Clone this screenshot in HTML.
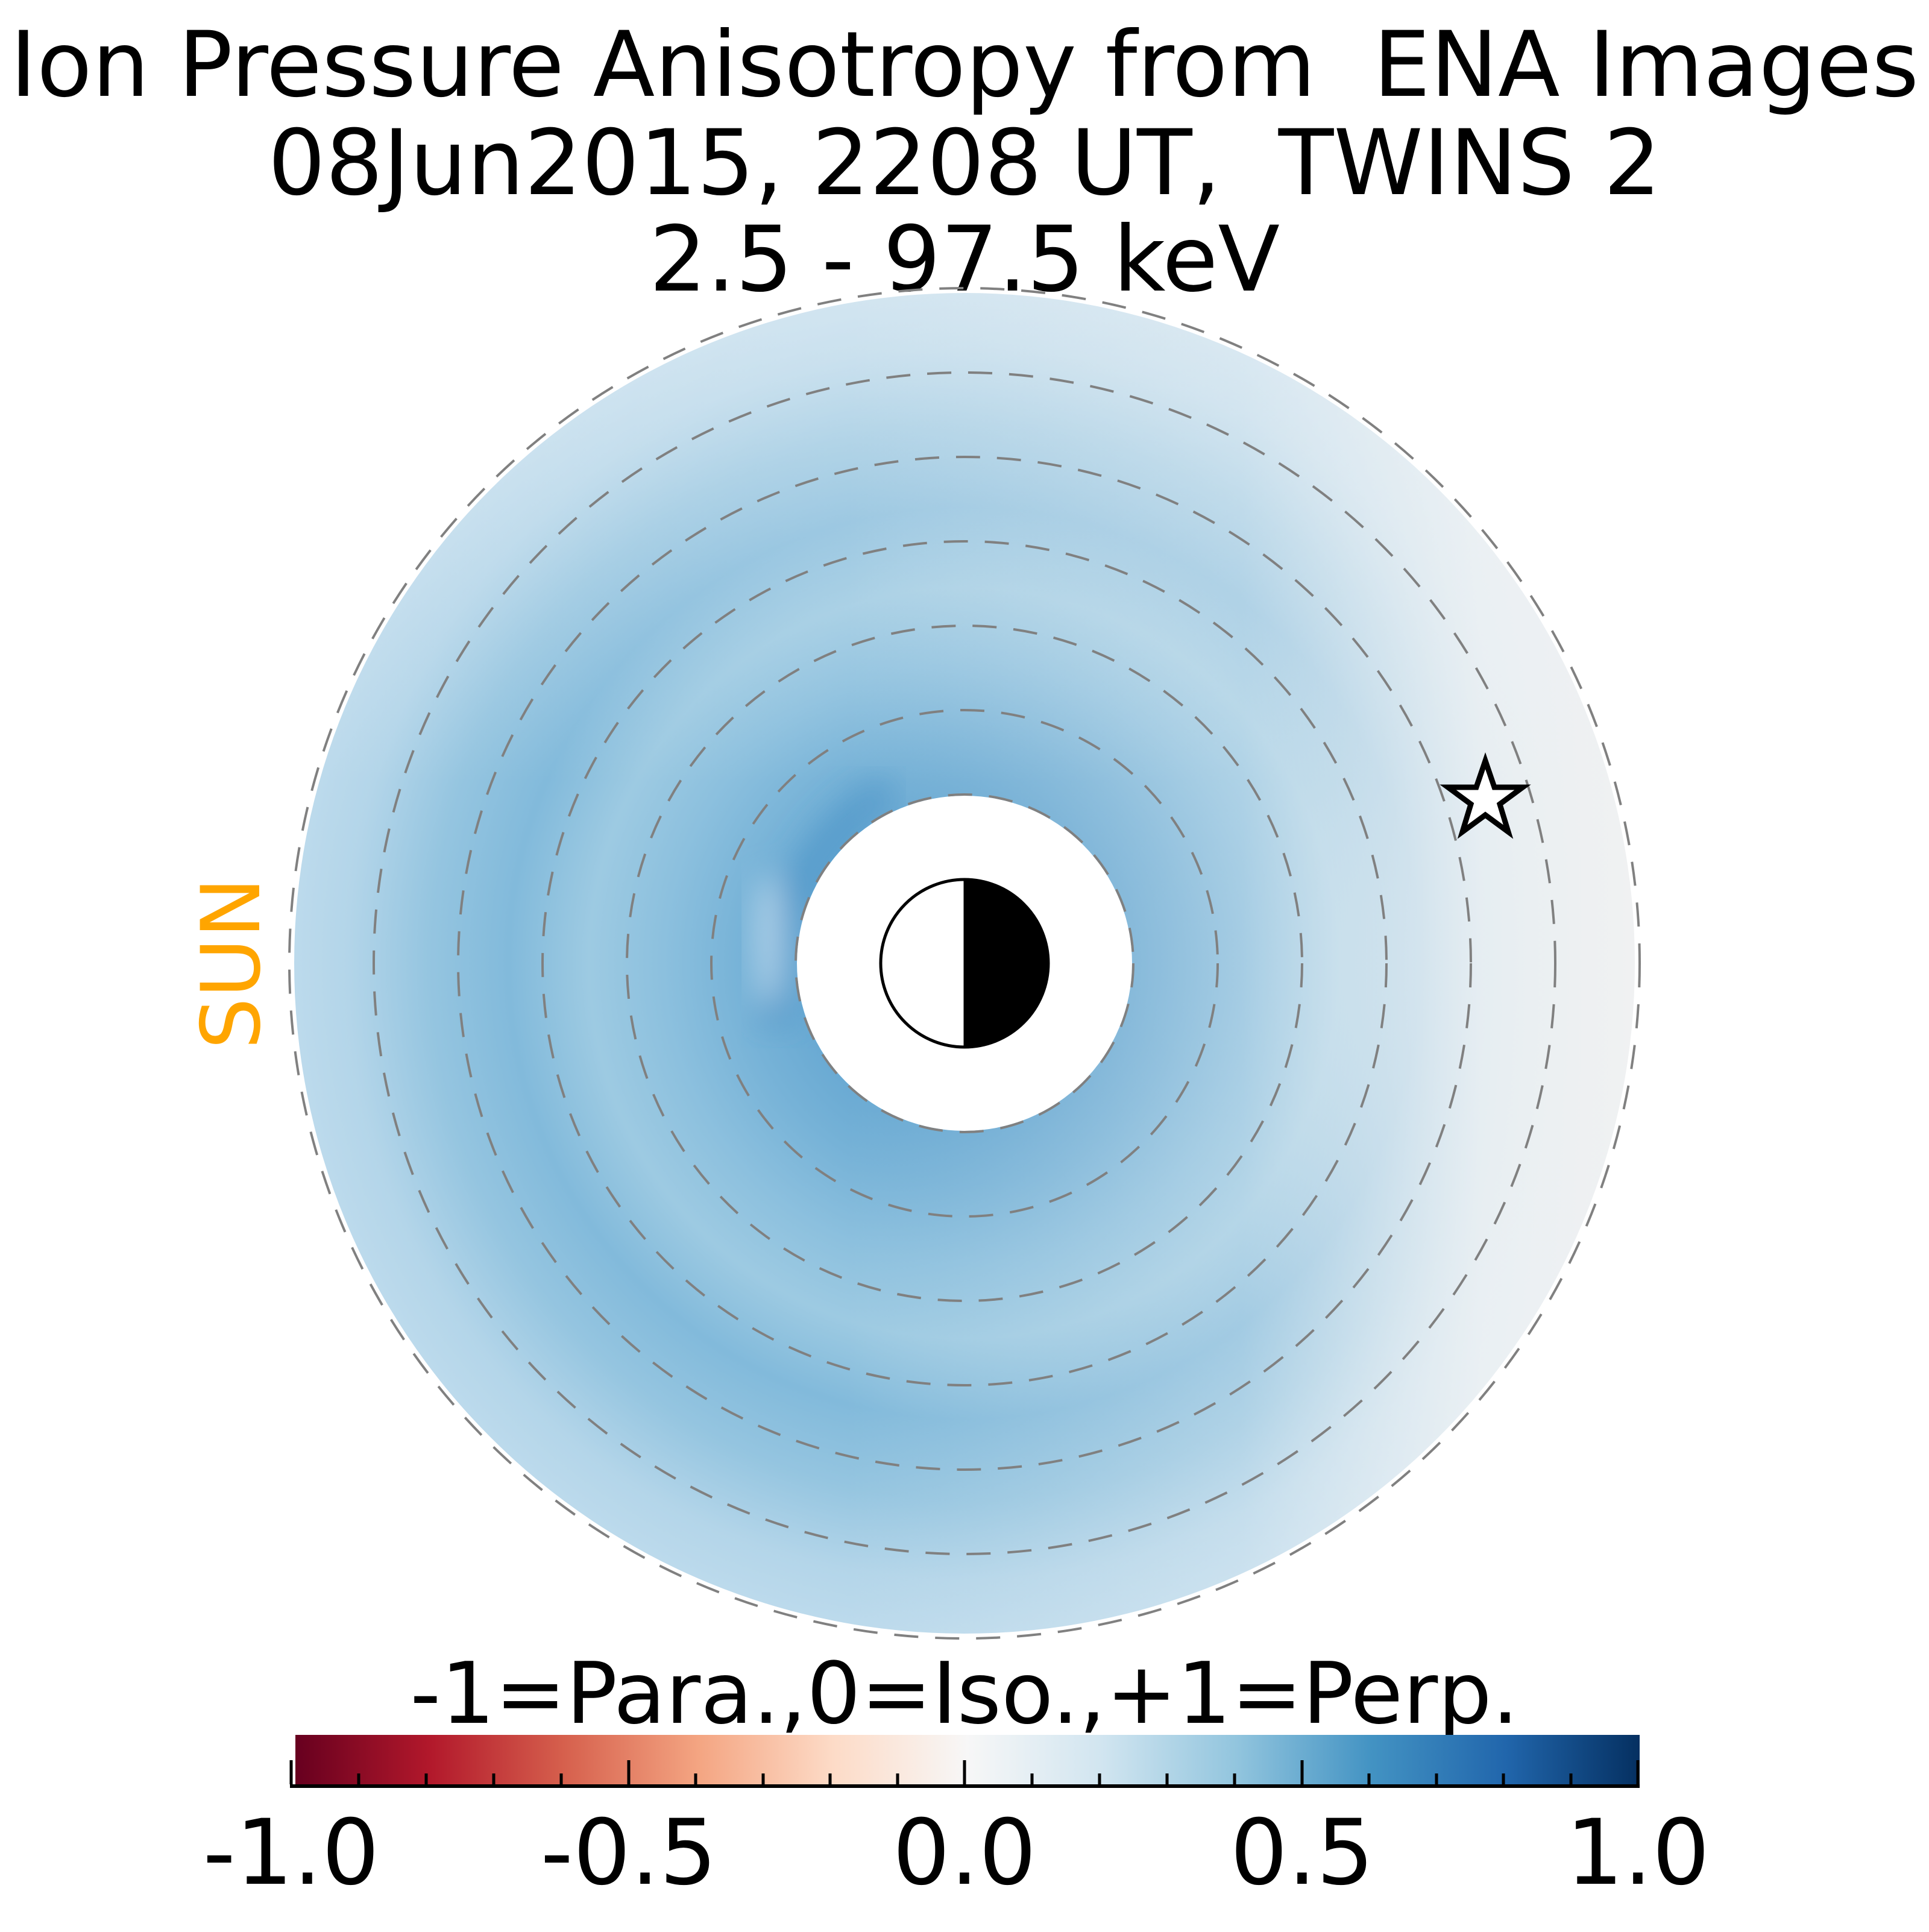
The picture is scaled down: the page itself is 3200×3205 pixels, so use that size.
<!DOCTYPE html>
<html><head><meta charset="utf-8"><style>
html,body{margin:0;padding:0;background:#fff;}
body{width:3200px;height:3200px;overflow:hidden;}
</style></head><body>
<svg width="3200" height="3200" viewBox="0 0 3200 3200" xmlns="http://www.w3.org/2000/svg" font-family="'DejaVu Sans','Liberation Sans',sans-serif">
<defs>
<radialGradient id="rg" cx="1600" cy="1598" r="1112" gradientUnits="userSpaceOnUse">
<stop offset="0.25" stop-color="#6aaad3"/>
<stop offset="0.33" stop-color="#76b2d7"/>
<stop offset="0.45" stop-color="#8cc0de"/>
<stop offset="0.56" stop-color="#9dcae2"/>
<stop offset="0.68" stop-color="#82badb"/>
<stop offset="0.8" stop-color="#95c5e0"/>
<stop offset="0.92" stop-color="#b3d5e9"/>
<stop offset="1" stop-color="#bcdaec"/>
</radialGradient>
<linearGradient id="lg" x1="1400" y1="0" x2="2720" y2="0" gradientUnits="userSpaceOnUse">
<stop offset="0" stop-color="#f2f2f2" stop-opacity="0"/>
<stop offset="0.5" stop-color="#eef2f5" stop-opacity="0.3"/>
<stop offset="0.8" stop-color="#eff2f4" stop-opacity="0.9"/>
<stop offset="1" stop-color="#f0f1f2" stop-opacity="1"/>
</linearGradient>
<linearGradient id="tg" x1="0" y1="480" x2="0" y2="1300" gradientUnits="userSpaceOnUse">
<stop offset="0" stop-color="#e8f0f5" stop-opacity="0.5"/>
<stop offset="1" stop-color="#e8f0f5" stop-opacity="0"/>
</linearGradient>
<linearGradient id="cb" x1="490" y1="0" x2="2720" y2="0" gradientUnits="userSpaceOnUse">
<stop offset="0" stop-color="#67001f"/>
<stop offset="0.1" stop-color="#b2182b"/>
<stop offset="0.2" stop-color="#d6604d"/>
<stop offset="0.3" stop-color="#f4a582"/>
<stop offset="0.4" stop-color="#fddbc7"/>
<stop offset="0.5" stop-color="#f7f7f7"/>
<stop offset="0.6" stop-color="#d1e5f0"/>
<stop offset="0.7" stop-color="#92c5de"/>
<stop offset="0.8" stop-color="#4393c3"/>
<stop offset="0.9" stop-color="#2166ac"/>
<stop offset="1" stop-color="#053061"/>
</linearGradient>
<filter id="bl"><feGaussianBlur stdDeviation="25"/></filter>
<mask id="ann"><rect width="3200" height="3200" fill="black"/><circle cx="1600" cy="1598" r="1112" fill="white"/><circle cx="1600" cy="1598" r="278" fill="black"/></mask>
</defs>
<g font-size="150" text-anchor="middle">
<text x="1600" y="159">Ion Pressure Anisotropy from &#160;ENA Images</text>
<text x="1600" y="322">08Jun2015, 2208 UT, &#160;TWINS 2</text>
<text x="1600" y="482">2.5 - 97.5 keV</text>
</g>
<g mask="url(#ann)">
<rect width="3200" height="3200" fill="url(#rg)"/>
<g filter="url(#bl)">
<path d="M1290 1700 Q1280 1420 1480 1310" fill="none" stroke="#4a93c6" stroke-width="60" opacity="0.6"/>
<ellipse cx="1275" cy="1560" rx="22" ry="110" fill="#c6def0" opacity="0.8"/>
</g>
<rect width="3200" height="3200" fill="url(#tg)"/>
<rect width="3200" height="3200" fill="url(#lg)"/>
</g>
<g fill="none" stroke="#808080" stroke-width="4" stroke-dasharray="40 28">
<circle cx="1600" cy="1598" r="280"/>
<circle cx="1600" cy="1598" r="420"/>
<circle cx="1600" cy="1598" r="560"/>
<circle cx="1600" cy="1598" r="700"/>
<circle cx="1600" cy="1598" r="840"/>
<circle cx="1600" cy="1598" r="980"/>
<circle cx="1600" cy="1598" r="1120"/>
</g>
<path d="M1600 1457 A141 141 0 0 1 1600 1739 Z" fill="#000"/>
<circle cx="1600" cy="1598" r="139" fill="none" stroke="#000" stroke-width="5"/>
<line x1="1600" y1="1457" x2="1600" y2="1739" stroke="#000" stroke-width="3"/>
<polygon points="2464,1262 2479,1306 2526,1306 2488,1334 2502,1380 2464,1352 2426,1380 2440,1334 2402,1306 2449,1306" fill="#fff" stroke="#000" stroke-width="9" stroke-linejoin="miter"/>
<text x="0" y="0" font-size="135" fill="#ffa500" text-anchor="middle" transform="translate(430,1598) rotate(-90)">SUN</text>
<text x="1600" y="2858" font-size="141" text-anchor="middle">-1=Para.,0=Iso.,+1=Perp.</text>
<rect x="490" y="2878" width="2230" height="82" fill="url(#cb)"/>
<line x1="481" y1="2963" x2="2720" y2="2963" stroke="#000" stroke-width="6"/>
<g stroke="#000" stroke-width="5">
<line x1="483" y1="2960" x2="483" y2="2920"/>
<line x1="1043" y1="2960" x2="1043" y2="2920"/>
<line x1="1600" y1="2960" x2="1600" y2="2920"/>
<line x1="2160" y1="2960" x2="2160" y2="2920"/>
<line x1="2717" y1="2960" x2="2717" y2="2920"/>
<line x1="595" y1="2960" x2="595" y2="2942"/><line x1="707" y1="2960" x2="707" y2="2942"/><line x1="819" y1="2960" x2="819" y2="2942"/><line x1="931" y1="2960" x2="931" y2="2942"/>
<line x1="1154" y1="2960" x2="1154" y2="2942"/><line x1="1266" y1="2960" x2="1266" y2="2942"/><line x1="1377" y1="2960" x2="1377" y2="2942"/><line x1="1489" y1="2960" x2="1489" y2="2942"/>
<line x1="1712" y1="2960" x2="1712" y2="2942"/><line x1="1824" y1="2960" x2="1824" y2="2942"/><line x1="1936" y1="2960" x2="1936" y2="2942"/><line x1="2048" y1="2960" x2="2048" y2="2942"/>
<line x1="2271" y1="2960" x2="2271" y2="2942"/><line x1="2383" y1="2960" x2="2383" y2="2942"/><line x1="2494" y1="2960" x2="2494" y2="2942"/><line x1="2606" y1="2960" x2="2606" y2="2942"/>
</g>
<g font-size="150" text-anchor="middle">
<text x="483" y="3125">-1.0</text>
<text x="1043" y="3125">-0.5</text>
<text x="1600" y="3125">0.0</text>
<text x="2160" y="3125">0.5</text>
<text x="2717" y="3125">1.0</text>
</g>
</svg>
</body></html>
